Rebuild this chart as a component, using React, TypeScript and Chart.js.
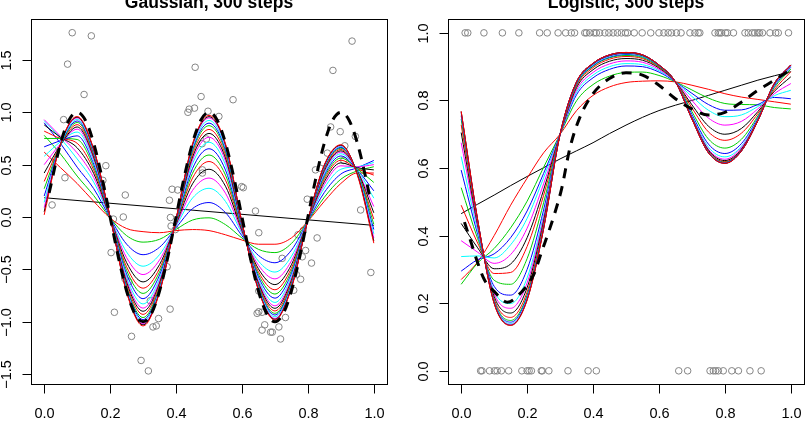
import React, { useEffect, useRef } from "react";
import { Chart, registerables } from "chart.js";
Chart.register(...registerables);

// ---------- shared ----------
const XS = [0, 0.05, 0.1, 0.15, 0.2, 0.25, 0.3, 0.35, 0.4, 0.45, 0.5, 0.55, 0.6, 0.65, 0.7, 0.75, 0.8, 0.85, 0.9, 0.95, 1];
const PALETTE = ["#000000", "#FF0000", "#00CD00", "#0000FF", "#00FFFF", "#FF00FF"];
const X_TICKS = [0, 0.2, 0.4, 0.6, 0.8, 1];
const X_LABELS = ["0.0", "0.2", "0.4", "0.6", "0.8", "1.0"];

// ---------- Gaussian panel ----------
const G_TITLE = "Gaussian, 300 steps";
const G_Y_TICKS = [-1.5, -1, -0.5, 0, 0.5, 1, 1.5];
const G_Y_LABELS = ["\u22121.5", "\u22121.0", "\u22120.5", "0.0", "0.5", "1.0", "1.5"];
const G_LIN_X = [0, 1];
const G_LIN_Y = [0.184, -0.08];
const G_CURVES = [
  [0.62, 0.47, 0.32, 0.15, -0.01, -0.11, -0.14, -0.15, -0.13, -0.12, -0.13, -0.17, -0.22, -0.26, -0.26, -0.2, -0.04, 0.15, 0.32, 0.42, 0.42],
  [0.78, 0.6, 0.391, 0.206, -0.009, -0.178, -0.24, -0.213, -0.118, -0.029, -0.008, -0.073, -0.201, -0.309, -0.34, -0.253, -0.039, 0.189, 0.361, 0.44, 0.48],
  [0.9, 0.7, 0.476, 0.272, -0.008, -0.259, -0.36, -0.289, -0.103, 0.08, 0.138, 0.042, -0.179, -0.367, -0.437, -0.317, -0.038, 0.235, 0.41, 0.47, 0.54],
  [0.92, 0.75, 0.555, 0.334, -0.006, -0.334, -0.47, -0.359, -0.09, 0.181, 0.274, 0.149, -0.158, -0.421, -0.526, -0.376, -0.036, 0.278, 0.456, 0.48, 0.52],
  [0.93, 0.77, 0.612, 0.378, -0.005, -0.388, -0.55, -0.41, -0.08, 0.254, 0.372, 0.227, -0.143, -0.46, -0.591, -0.419, -0.035, 0.31, 0.489, 0.48, 0.5],
  [0.88, 0.76, 0.661, 0.417, -0.005, -0.435, -0.62, -0.454, -0.071, 0.317, 0.456, 0.294, -0.129, -0.495, -0.646, -0.456, -0.035, 0.337, 0.517, 0.47, 0.45],
  [0.82, 0.75, 0.704, 0.45, -0.004, -0.476, -0.68, -0.492, -0.064, 0.372, 0.53, 0.352, -0.118, -0.524, -0.695, -0.488, -0.034, 0.36, 0.542, 0.46, 0.4],
  [0.75, 0.75, 0.74, 0.478, -0.003, -0.51, -0.73, -0.524, -0.058, 0.418, 0.592, 0.401, -0.109, -0.549, -0.736, -0.515, -0.033, 0.38, 0.563, 0.46, 0.33],
  [0.67, 0.73, 0.775, 0.506, -0.003, -0.544, -0.78, -0.555, -0.052, 0.463, 0.652, 0.449, -0.099, -0.573, -0.775, -0.541, -0.033, 0.399, 0.583, 0.45, 0.25],
  [0.58, 0.72, 0.811, 0.534, -0.002, -0.578, -0.83, -0.587, -0.046, 0.509, 0.714, 0.497, -0.09, -0.598, -0.816, -0.568, -0.032, 0.418, 0.604, 0.45, 0.18],
  [0.5, 0.7, 0.839, 0.556, -0.002, -0.605, -0.87, -0.612, -0.041, 0.545, 0.762, 0.536, -0.082, -0.617, -0.848, -0.589, -0.032, 0.434, 0.62, 0.44, 0.1],
  [0.42, 0.69, 0.86, 0.572, -0.002, -0.625, -0.9, -0.631, -0.037, 0.572, 0.798, 0.564, -0.077, -0.631, -0.872, -0.605, -0.032, 0.445, 0.632, 0.44, 0.04],
  [0.34, 0.69, 0.882, 0.589, -0.001, -0.646, -0.93, -0.65, -0.033, 0.6, 0.836, 0.594, -0.071, -0.646, -0.897, -0.621, -0.031, 0.457, 0.645, 0.43, -0.02],
  [0.27, 0.69, 0.903, 0.606, -0.001, -0.666, -0.96, -0.669, -0.03, 0.627, 0.872, 0.623, -0.065, -0.661, -0.92, -0.637, -0.031, 0.469, 0.657, 0.43, -0.07],
  [0.2, 0.69, 0.917, 0.617, -0.001, -0.679, -0.98, -0.682, -0.027, 0.645, 0.896, 0.642, -0.061, -0.67, -0.936, -0.648, -0.031, 0.477, 0.665, 0.42, -0.12],
  [0.14, 0.69, 0.932, 0.628, 0, -0.693, -1.0, -0.695, -0.025, 0.664, 0.922, 0.662, -0.058, -0.68, -0.953, -0.659, -0.03, 0.485, 0.674, 0.42, -0.16],
  [0.09, 0.7, 0.946, 0.639, 0, -0.707, -1.02, -0.707, -0.022, 0.682, 0.946, 0.681, -0.054, -0.69, -0.969, -0.669, -0.03, 0.492, 0.682, 0.41, -0.2],
  [0.05, 0.7, 0.953, 0.645, 0, -0.713, -1.03, -0.714, -0.021, 0.691, 0.958, 0.69, -0.052, -0.695, -0.977, -0.675, -0.03, 0.496, 0.686, 0.41, -0.23],
  [0.02, 0.7, 0.96, 0.65, 0, -0.72, -1.04, -0.72, -0.02, 0.7, 0.97, 0.7, -0.05, -0.7, -0.985, -0.68, -0.03, 0.5, 0.69, 0.4, -0.25],
];
const G_TRUE_X = [0.015, 0.05, 0.075, 0.1, 0.125, 0.15, 0.175, 0.2, 0.225, 0.25, 0.275, 0.3, 0.325, 0.35, 0.375, 0.4, 0.425, 0.45, 0.475, 0.5, 0.525, 0.55, 0.575, 0.6, 0.625, 0.65, 0.675, 0.7, 0.725, 0.75, 0.775, 0.8, 0.825, 0.85, 0.875, 0.9, 0.925, 0.95, 0.975, 0.99];
const G_TRUE_Y = [0.23, 0.707, 0.924, 1.0, 0.924, 0.707, 0.383, 0, -0.383, -0.707, -0.924, -1.0, -0.924, -0.707, -0.383, 0, 0.383, 0.707, 0.924, 1.0, 0.924, 0.707, 0.383, 0, -0.383, -0.707, -0.924, -1.0, -0.924, -0.707, -0.383, 0, 0.383, 0.707, 0.924, 1.0, 0.924, 0.707, 0.383, 0.156];
const G_PTS_X = [0.024, 0.059, 0.063, 0.071, 0.085, 0.121, 0.143, 0.187, 0.178, 0.246, 0.24, 0.21, 0.203, 0.213, 0.245, 0.257, 0.265, 0.294, 0.316, 0.322, 0.33, 0.34, 0.347, 0.382, 0.373, 0.383, 0.385, 0.398, 0.38, 0.388, 0.405, 0.436, 0.44, 0.456, 0.458, 0.476, 0.497, 0.53, 0.573, 0.479, 0.492, 0.48, 0.48, 0.599, 0.604, 0.641, 0.651, 0.646, 0.651, 0.661, 0.651, 0.669, 0.661, 0.687, 0.692, 0.712, 0.732, 0.717, 0.722, 0.757, 0.765, 0.778, 0.77, 0.786, 0.783, 0.793, 0.811, 0.828, 0.798, 0.823, 0.838, 0.859, 0.869, 0.876, 0.898, 0.912, 0.944, 0.934, 0.96, 0.991, 0.909];
const G_PTS_Y = [0.115, 0.93, 0.375, 1.46, 1.76, 1.17, 1.73, 0.49, 0.35, 0.21, 0.0, -0.02, -0.34, -0.91, -0.59, -0.62, -1.14, -1.37, -1.47, -0.8, -1.05, -1.04, -0.97, -0.88, -0.475, -0.005, -0.086, -0.12, 0.16, 0.265, 0.258, 1.0, 1.03, 1.04, 1.43, 1.15, 1.01, 0.96, 1.12, 0.7, 0.745, 0.45, 0.42, 0.29, 0.28, 0.057, -0.15, -0.92, -0.905, -0.91, -0.707, -1.03, -1.08, -1.1, -1.1, -1.05, -0.96, -1.165, -0.395, -0.7, -0.55, -0.595, -0.17, -0.13, -0.38, -0.32, -0.44, -0.2, 0.17, 0.45, 0.465, 0.61, 0.86, 1.4, 0.815, 0.68, 0.77, 1.68, 0.067, -0.53, 0.54];

// ---------- Logistic panel ----------
const L_TITLE = "Logistic, 300 steps";
const L_Y_TICKS = [0, 0.2, 0.4, 0.6, 0.8, 1];
const L_Y_LABELS = ["0.0", "0.2", "0.4", "0.6", "0.8", "1.0"];
const L_LIN_X = XS;
const L_LIN_Y = [0.465, 0.493, 0.52, 0.548, 0.575, 0.601, 0.627, 0.651, 0.675, 0.702, 0.727, 0.75, 0.77, 0.786, 0.8, 0.815, 0.83, 0.845, 0.86, 0.873, 0.885];
const L_CURVES = [
  [0.27, 0.322, 0.4, 0.49, 0.57, 0.645, 0.7, 0.77, 0.815, 0.84, 0.853, 0.857, 0.858, 0.855, 0.845, 0.833, 0.82, 0.81, 0.803, 0.796, 0.789],
  [0.256, 0.319, 0.362, 0.423, 0.502, 0.602, 0.7, 0.799, 0.847, 0.872, 0.883, 0.884, 0.874, 0.855, 0.831, 0.807, 0.791, 0.788, 0.787, 0.779, 0.775],
  [0.295, 0.329, 0.346, 0.394, 0.473, 0.584, 0.7, 0.817, 0.867, 0.892, 0.902, 0.9, 0.884, 0.855, 0.821, 0.788, 0.771, 0.772, 0.788, 0.809, 0.805],
  [0.338, 0.34, 0.334, 0.373, 0.451, 0.571, 0.7, 0.824, 0.875, 0.9, 0.909, 0.906, 0.888, 0.855, 0.812, 0.771, 0.752, 0.757, 0.782, 0.814, 0.83],
  [0.385, 0.351, 0.318, 0.344, 0.422, 0.553, 0.7, 0.831, 0.883, 0.908, 0.917, 0.913, 0.892, 0.855, 0.8, 0.748, 0.727, 0.738, 0.775, 0.82, 0.85],
  [0.436, 0.364, 0.302, 0.316, 0.394, 0.535, 0.7, 0.838, 0.891, 0.916, 0.924, 0.919, 0.896, 0.855, 0.787, 0.724, 0.7, 0.717, 0.767, 0.827, 0.87],
  [0.49, 0.378, 0.288, 0.291, 0.368, 0.519, 0.7, 0.843, 0.897, 0.922, 0.93, 0.924, 0.898, 0.855, 0.778, 0.707, 0.682, 0.703, 0.761, 0.832, 0.885],
  [0.542, 0.391, 0.268, 0.256, 0.332, 0.497, 0.7, 0.847, 0.901, 0.926, 0.933, 0.927, 0.9, 0.855, 0.767, 0.686, 0.659, 0.685, 0.754, 0.838, 0.893],
  [0.594, 0.404, 0.25, 0.224, 0.3, 0.476, 0.7, 0.849, 0.903, 0.928, 0.936, 0.93, 0.902, 0.855, 0.759, 0.671, 0.643, 0.672, 0.749, 0.842, 0.898],
  [0.634, 0.414, 0.236, 0.199, 0.275, 0.461, 0.7, 0.851, 0.905, 0.93, 0.938, 0.931, 0.903, 0.855, 0.754, 0.662, 0.633, 0.664, 0.746, 0.845, 0.901],
  [0.675, 0.424, 0.228, 0.185, 0.26, 0.452, 0.7, 0.853, 0.907, 0.932, 0.939, 0.933, 0.904, 0.855, 0.751, 0.656, 0.626, 0.66, 0.744, 0.847, 0.903],
  [0.705, 0.431, 0.22, 0.171, 0.246, 0.443, 0.7, 0.853, 0.908, 0.933, 0.94, 0.933, 0.904, 0.855, 0.749, 0.653, 0.622, 0.656, 0.743, 0.848, 0.904],
  [0.728, 0.437, 0.213, 0.158, 0.233, 0.435, 0.7, 0.854, 0.909, 0.934, 0.941, 0.934, 0.904, 0.855, 0.748, 0.65, 0.619, 0.654, 0.742, 0.849, 0.905],
  [0.745, 0.441, 0.208, 0.149, 0.224, 0.429, 0.7, 0.854, 0.909, 0.934, 0.941, 0.934, 0.905, 0.855, 0.746, 0.648, 0.617, 0.652, 0.741, 0.849, 0.905],
  [0.755, 0.444, 0.205, 0.144, 0.219, 0.426, 0.7, 0.855, 0.909, 0.934, 0.941, 0.935, 0.905, 0.855, 0.746, 0.647, 0.616, 0.652, 0.74, 0.85, 0.905],
  [0.762, 0.445, 0.203, 0.14, 0.215, 0.423, 0.7, 0.855, 0.91, 0.935, 0.942, 0.935, 0.905, 0.855, 0.745, 0.646, 0.615, 0.65, 0.74, 0.85, 0.905],
  [0.765, 0.446, 0.201, 0.137, 0.212, 0.421, 0.7, 0.855, 0.91, 0.935, 0.942, 0.935, 0.905, 0.855, 0.745, 0.645, 0.614, 0.65, 0.74, 0.85, 0.905],
  [0.767, 0.447, 0.2, 0.135, 0.21, 0.42, 0.7, 0.855, 0.91, 0.935, 0.942, 0.935, 0.905, 0.855, 0.745, 0.645, 0.614, 0.65, 0.74, 0.85, 0.905],
  [0.768, 0.447, 0.199, 0.134, 0.209, 0.42, 0.7, 0.855, 0.91, 0.935, 0.942, 0.935, 0.905, 0.855, 0.745, 0.645, 0.614, 0.65, 0.74, 0.85, 0.905],
];
const L_TRUE_X = [0.01, 0.03, 0.05, 0.07, 0.1, 0.14, 0.18, 0.22, 0.245, 0.265, 0.285, 0.305, 0.33, 0.36, 0.4, 0.45, 0.5, 0.55, 0.6, 0.65, 0.7, 0.75, 0.8, 0.85, 0.9, 0.95, 0.99];
const L_TRUE_Y = [0.44, 0.38, 0.32, 0.27, 0.235, 0.203, 0.23, 0.285, 0.355, 0.41, 0.47, 0.54, 0.66, 0.75, 0.82, 0.865, 0.882, 0.875, 0.845, 0.805, 0.775, 0.757, 0.765, 0.795, 0.83, 0.86, 0.885];
const L_PTS1_X = [0.012, 0.02, 0.069, 0.125, 0.175, 0.238, 0.261, 0.294, 0.317, 0.334, 0.344, 0.375, 0.38, 0.39, 0.403, 0.41, 0.42, 0.436, 0.448, 0.461, 0.474, 0.486, 0.498, 0.505, 0.525, 0.549, 0.575, 0.6, 0.615, 0.628, 0.638, 0.653, 0.667, 0.694, 0.709, 0.719, 0.724, 0.77, 0.78, 0.785, 0.79, 0.802, 0.808, 0.826, 0.861, 0.871, 0.883, 0.891, 0.9, 0.905, 0.914, 0.937, 0.954, 0.962, 0.993];
const L_PTS0_X = [0.059, 0.063, 0.086, 0.101, 0.109, 0.122, 0.144, 0.184, 0.2, 0.206, 0.213, 0.243, 0.246, 0.266, 0.324, 0.385, 0.41, 0.66, 0.687, 0.755, 0.765, 0.772, 0.78, 0.795, 0.821, 0.841, 0.876, 0.91];
const L_PTS_X = [...L_PTS1_X, ...L_PTS0_X];
const L_PTS_Y = [...L_PTS1_X.map(() => 1), ...L_PTS0_X.map(() => 0)];

const FONT = "'Liberation Sans', Arial, Helvetica, sans-serif";

type PanelProps = {
  offset: number;
  title: string;
  curves: number[][];
  linX: number[];
  linY: number[];
  trueX: number[];
  trueY: number[];
  ptsX: number[];
  ptsY: number[];
  yMin: number;
  yMax: number;
  yTicks: number[];
  yLabels: string[];
  pad: { left: number; right: number; top: number; bottom: number };
};

const toXY = (xs: number[], ys: number[]) => xs.map((x, i) => ({ x, y: ys[i] }));

function Panel(p: PanelProps) {
  const ref = useRef<HTMLCanvasElement | null>(null);
  useEffect(() => {
    if (!ref.current) return;
    const seq: any[] = [];
    seq.push({
      data: toXY(p.ptsX, p.ptsY),
      showLine: false,
      pointRadius: 3.3,
      pointHoverRadius: 3.3,
      pointBorderColor: "#858585",
      pointBackgroundColor: "rgba(0,0,0,0)",
      pointBorderWidth: 1,
    });
    seq.push({
      data: toXY(p.linX, p.linY),
      showLine: true,
      borderColor: "#000000",
      borderWidth: 1,
      pointRadius: 0,
      cubicInterpolationMode: "monotone",
    });
    p.curves.forEach((c, i) =>
      seq.push({
        data: toXY(XS, c),
        showLine: true,
        borderColor: PALETTE[(i + 1) % PALETTE.length],
        borderWidth: 1,
        pointRadius: 0,
        cubicInterpolationMode: "monotone",
      })
    );
    seq.push({
      data: toXY(p.trueX, p.trueY),
      showLine: true,
      borderColor: "#000000",
      borderWidth: 3,
      borderDash: [10, 8],
      pointRadius: 0,
      cubicInterpolationMode: "monotone",
    });
    seq.forEach((d, i) => (d.order = seq.length - i));

    const rAxes = {
      id: "rAxes",
      afterDraw(chart: any) {
        const { ctx, chartArea: a, scales } = chart;
        const xs = scales.x;
        const ys = scales.y;
        ctx.save();
        ctx.strokeStyle = "#000";
        ctx.fillStyle = "#000";
        ctx.lineWidth = 1;
        ctx.setLineDash([]);
        const L = Math.round(a.left) + 0.5;
        const T = Math.round(a.top) + 0.5;
        const R = Math.round(a.right) + 0.5;
        const B = Math.round(a.bottom) + 0.5;
        ctx.strokeRect(L, T, R - L, B - T);
        // x ticks
        ctx.font = `14.5px ${FONT}`;
        ctx.textAlign = "center";
        ctx.textBaseline = "alphabetic";
        X_TICKS.forEach((v, i) => {
          const px = Math.round(xs.getPixelForValue(v)) + 0.5;
          ctx.beginPath();
          ctx.moveTo(px, B);
          ctx.lineTo(px, B + 9);
          ctx.stroke();
          ctx.fillText(X_LABELS[i], px, 418);
        });
        // y ticks
        p.yTicks.forEach((v, i) => {
          const py = Math.round(ys.getPixelForValue(v)) + 0.5;
          ctx.beginPath();
          ctx.moveTo(L, py);
          ctx.lineTo(L - 9, py);
          ctx.stroke();
          ctx.save();
          ctx.translate(L - 21, py);
          ctx.rotate(-Math.PI / 2);
          ctx.fillText(p.yLabels[i], 0, 0);
          ctx.restore();
        });
        // title
        ctx.font = `bold 17.5px ${FONT}`;
        ctx.fillText(p.title, (a.left + a.right) / 2, 7.5);
        ctx.restore();
      },
    };

    const chart = new Chart(ref.current, {
      type: "scatter",
      data: { datasets: seq },
      options: {
        animation: false,
        responsive: false,
        devicePixelRatio: 1,
        events: [],
        layout: { padding: p.pad },
        plugins: { legend: { display: false }, tooltip: { enabled: false }, title: { display: false } },
        scales: {
          x: { type: "linear", min: -0.04, max: 1.04, display: false },
          y: { type: "linear", min: p.yMin, max: p.yMax, display: false },
        },
      },
      plugins: [rAxes],
    } as any);
    return () => chart.destroy();
  }, []);
  return (
    <canvas
      ref={ref}
      width={405}
      height={430}
      style={{ position: "absolute", left: p.offset, top: 0, width: 405, height: 430, display: "block" }}
    />
  );
}

export default function App() {
  return (
    <div style={{ position: "absolute", left: 0, top: 0, width: 810, height: 430, background: "#fff", overflow: "hidden" }}>
      <Panel
        offset={0}
        title={G_TITLE}
        curves={G_CURVES}
        linX={G_LIN_X}
        linY={G_LIN_Y}
        trueX={G_TRUE_X}
        trueY={G_TRUE_Y}
        ptsX={G_PTS_X}
        ptsY={G_PTS_Y}
        yMin={-1.595}
        yMax={1.891}
        yTicks={G_Y_TICKS}
        yLabels={G_Y_LABELS}
        pad={{ left: 31, right: 18, top: 19, bottom: 46 }}
      />
      <Panel
        offset={405}
        title={L_TITLE}
        curves={L_CURVES}
        linX={L_LIN_X}
        linY={L_LIN_Y}
        trueX={L_TRUE_X}
        trueY={L_TRUE_Y}
        ptsX={L_PTS_X}
        ptsY={L_PTS_Y}
        yMin={-0.039}
        yMax={1.041}
        yTicks={L_Y_TICKS}
        yLabels={L_Y_LABELS}
        pad={{ left: 43, right: 6, top: 19, bottom: 46 }}
      />
    </div>
  );
}
